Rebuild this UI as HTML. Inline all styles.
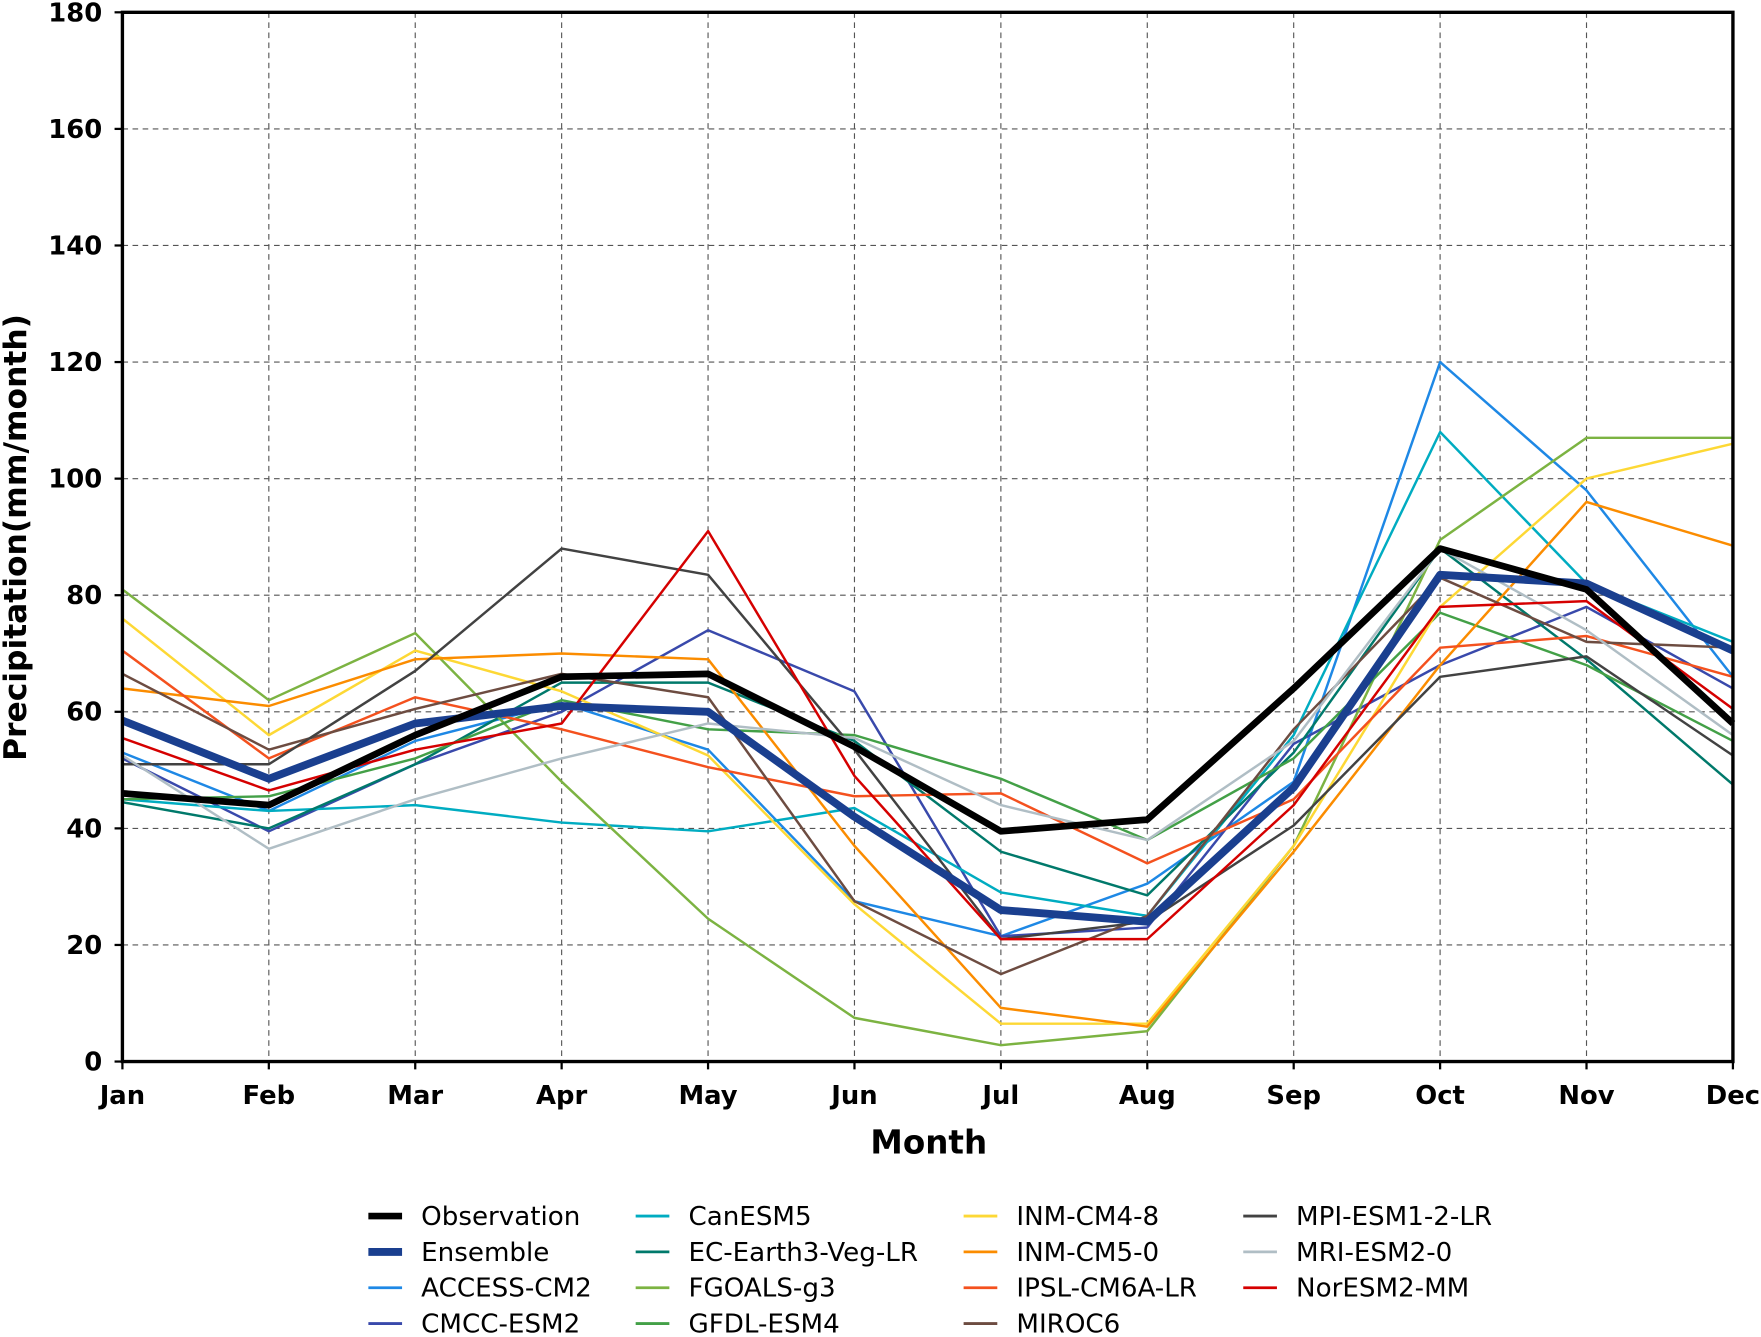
<!DOCTYPE html>
<html><head><meta charset="utf-8"><style>
html,body{margin:0;padding:0;background:#fff;}
svg{display:block;font-family:"DejaVu Sans","Liberation Sans",sans-serif;}
</style></head><body>
<svg id="chart" width="1761" height="1337" viewBox="0 0 1568 1194" preserveAspectRatio="none" xmlns="http://www.w3.org/2000/svg">
<g id="grid"></g>
<g id="series"></g>
<rect x="109" y="11" width="1434" height="937" fill="none" stroke="#000" stroke-width="3"/>
<g id="axes"></g>
<text x="827" y="1030" font-size="29" font-weight="bold" text-anchor="middle">Month</text>
<text transform="translate(23,480) rotate(-90)" font-size="28" font-weight="bold" text-anchor="middle">Precipitation(mm/month)</text>
<g id="legend"></g>
</svg>
<script>
const months = ["Jan","Feb","Mar","Apr","May","Jun","Jul","Aug","Sep","Oct","Nov","Dec"];
const yTicks = [0,20,40,60,80,100,120,140,160,180];
const seriesNames = ["Observation","Ensemble","ACCESS-CM2","CMCC-ESM2","CanESM5","EC-Earth3-Veg-LR","FGOALS-g3","GFDL-ESM4","INM-CM4-8","INM-CM5-0","IPSL-CM6A-LR","MIROC6","MPI-ESM1-2-LR","MRI-ESM2-0","NorESM2-MM"];
const seriesColors = ["#000000","#1a3f8f","#1e88e5","#3949ab","#00acc1","#00796b","#7cb342","#43a047","#fdd835","#fb8c00","#f4511e","#6d4c41","#424242","#b0bec5","#d50000"];
const obs = [46,44,56,66,66.5,54,39.5,41.5,64,88,81,58];
const ens = [58.5,48.5,58,61,60,42,26,24,47,83.5,82,70.5];
const access = [53,43,55,61.5,53.5,27.5,21.5,30.5,48,120,98,66];
const cmcc = [52,39.5,51,60,74,63.5,21.5,23,54.5,68,78,64];
const canesm = [45,43,44,41,39.5,43.5,29,25,56,108,82,72];
const ecearth = [44.5,40,51,65,65,55,36,28.5,53,88,69,47.5];
const fgoals = [81,62,73.5,48,24.5,7.5,2.8,5.2,37,89.5,107,107];
const gfdl = [45,45.5,52,62,57,56,48.5,38,52,77,68,55];
const inm48 = [76,56,70.5,63.5,52.5,27,6.5,6.5,37,78,100,106];
const inm50 = [64,61,69,70,69,37,9.2,6,36,68,96,88.5];
const ipsl = [70.5,52,62.5,57,50.5,45.5,46,34,45,71,73,66];
const miroc = [66.5,53.5,60.5,66.5,62.5,27.5,15,25,57,83,72,71];
const mpi = [51,51,67,88,83.5,53.5,21,24,40.5,66,69.5,52.5];
const mri = [52.5,36.5,45,52,58,55.5,44,38,55,88,74,56];
const nor = [55.5,46.5,53.5,58,91,49,21,21,44,78,79,60.5];
const seriesData = [obs,ens,access,cmcc,canesm,ecearth,fgoals,gfdl,inm48,inm50,ipsl,miroc,mpi,mri,nor];

const NS="http://www.w3.org/2000/svg";
const X0=109,X1=1543,Y0=948,Y1=11;
function xs(i){return X0+(X1-X0)*i/(months.length-1);}
function ys(v){return Y0-(Y0-Y1)*v/180;}
function mk(tag,attrs,parent){const e=document.createElementNS(NS,tag);for(const k in attrs)e.setAttribute(k,attrs[k]);parent.appendChild(e);return e;}
const grid=document.getElementById('grid'),axes=document.getElementById('axes'),ser=document.getElementById('series'),leg=document.getElementById('legend');
months.forEach((m,i)=>{
  const x=xs(i);
  if(i>0&&i<months.length-1){const g=mk('line',{x1:x,x2:x,y1:Y1,y2:Y0,stroke:'#555','stroke-width':1,'stroke-dasharray':'5,4'},grid);
  
  }
  const t=mk('line',{x1:x,x2:x,y1:Y0,y2:Y0+7,stroke:'#000','stroke-width':2},axes);
  
  
  const l=mk('text',{x:x,y:986,'font-size':23,'font-weight':'bold','text-anchor':'middle'},axes);
  l.textContent=m;
  
  
});
yTicks.forEach(v=>{
  const y=ys(v);
  if(v>0&&v<180){const g=mk('line',{x1:X0,x2:X1,y1:y,y2:y,stroke:'#555','stroke-width':1,'stroke-dasharray':'5,4'},grid);
  
  }
  const t=mk('line',{x1:X0-7,x2:X0,y1:y,y2:y,stroke:'#000','stroke-width':2},axes);
  
  
  const l=mk('text',{x:91,y:y+8,'font-size':23,'font-weight':'bold','text-anchor':'end'},axes);
  l.textContent=v;
  
  
});
const order=[2,3,4,5,6,7,8,9,10,11,12,13,14,1,0];
order.forEach(si=>{
  const pts=seriesData[si].map((v,i)=>xs(i).toFixed(1)+','+ys(v).toFixed(1)).join(' ');
  const w=si===0?6:(si===1?7:2.2);
  const p=mk('polyline',{points:pts,fill:'none',stroke:seriesColors[si],'stroke-width':w,'stroke-linejoin':'round'},ser);
  
  
});
const colX=[328,566,858,1107];
seriesNames.forEach((n,i)=>{
  const c=Math.floor(i/4),r=i%4;
  const x=colX[c],y=1086+r*32;
  const w=i===0?6:(i===1?7:2.5);
  const ln=mk('line',{x1:x,x2:x+30,y1:y,y2:y,stroke:seriesColors[i],'stroke-width':w},leg);
  
  
  const t=mk('text',{x:x+47,y:y+8,'font-size':23.3},leg);
  t.textContent=n;
  
  
});
</script>
</body></html>
